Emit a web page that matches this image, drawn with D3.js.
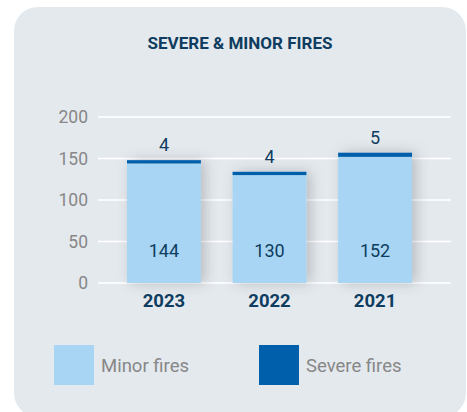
<!DOCTYPE html>
<html>
<head>
<meta charset="utf-8">
<script src="https://cdn.jsdelivr.net/npm/d3@7"></script>
<style>
  html, body { margin: 0; padding: 0; background: #fff; }
  svg { display: block; font-family: Roboto, "Noto Sans", sans-serif; }
</style>
</head>
<body>
<div id="chart"></div>
<script>
// data
const years = ['2023', '2022', '2021'];
const minorFires = [144, 130, 152];
const severeFires = [4, 4, 5];
const yTicks = [0, 50, 100, 150, 200];

const WIDTH = 467;
const HEIGHT = 412;

const LIGHT = '#a7d5f3';
const DARK = '#005fab';
const NAVY = '#0e3d5f';
const GREY = '#878787';

const svg = d3.select('#chart')
  .append('svg')
  .attr('width', WIDTH)
  .attr('height', HEIGHT);

// shadow for bars
const defs = svg.append('defs');
const shadow = defs.append('filter')
  .attr('id', 'shadow')
  .attr('x', '-40%').attr('y', '-20%')
  .attr('width', '180%').attr('height', '140%');
shadow.append('feDropShadow')
  .attr('dx', 4).attr('dy', 0)
  .attr('stdDeviation', 7)
  .attr('flood-color', '#000')
  .attr('flood-opacity', 0.2);

// panel background
svg.append('rect')
  .attr('x', 14).attr('y', 7)
  .attr('width', 452).attr('height', 410)
  .attr('rx', 24)
  .attr('fill', '#e4e9ee');

// title
svg.append('text')
  .attr('x', 240).attr('y', 49)
  .attr('text-anchor', 'middle')
  .attr('font-size', 16.5)
  .attr('font-weight', 700)
  .attr('fill', NAVY)
  .attr('textLength', 185)
  .attr('lengthAdjust', 'spacingAndGlyphs')
  .text('SEVERE & MINOR FIRES');

const x = d3.scaleBand()
  .domain(years)
  .range([127, 412])
  .paddingInner(0.3)
  .paddingOuter(0);

const y = d3.scaleLinear()
  .domain([0, 200])
  .range([283, 117]);

// gridlines
svg.append('g')
  .selectAll('line')
  .data(yTicks)
  .join('line')
  .attr('x1', 98).attr('x2', 451)
  .attr('y1', d => y(d)).attr('y2', d => y(d))
  .attr('stroke', '#fff')
  .attr('stroke-width', 1.5);

// y axis labels
const yAxis = svg.append('g')
  .attr('transform', 'translate(94,0)')
  .call(d3.axisLeft(y).tickValues(yTicks).tickSize(0).tickPadding(6));
yAxis.select('.domain').remove();
yAxis.selectAll('text')
  .attr('font-family', 'Roboto, sans-serif')
  .attr('font-size', 17.5)
  .attr('fill', GREY);

// stacked bars
const rows = years.map((yr, i) => ({ year: yr, minor: minorFires[i], severe: severeFires[i] }));

const bars = svg.append('g')
  .selectAll('g')
  .data(rows)
  .join('g')
  .attr('filter', 'url(#shadow)');

bars.append('rect')
  .attr('x', d => x(d.year))
  .attr('width', x.bandwidth())
  .attr('y', d => y(d.minor))
  .attr('height', d => y(0) - y(d.minor))
  .attr('fill', LIGHT);

bars.append('rect')
  .attr('x', d => x(d.year))
  .attr('width', x.bandwidth())
  .attr('y', d => y(d.minor + d.severe))
  .attr('height', d => y(d.minor) - y(d.minor + d.severe))
  .attr('fill', DARK);

// value labels
svg.append('g')
  .selectAll('text')
  .data(rows)
  .join('text')
  .attr('x', d => x(d.year) + x.bandwidth() / 2)
  .attr('y', 257)
  .attr('text-anchor', 'middle')
  .attr('font-size', 18)
  .attr('fill', NAVY)
  .text(d => d.minor);

svg.append('g')
  .selectAll('text')
  .data(rows)
  .join('text')
  .attr('x', d => x(d.year) + x.bandwidth() / 2)
  .attr('y', d => y(d.minor + d.severe) - 9)
  .attr('text-anchor', 'middle')
  .attr('font-size', 18)
  .attr('fill', NAVY)
  .text(d => d.severe);

// year labels
svg.append('g')
  .selectAll('text')
  .data(years)
  .join('text')
  .attr('x', d => x(d) + x.bandwidth() / 2)
  .attr('y', 307)
  .attr('text-anchor', 'middle')
  .attr('font-size', 18.5)
  .attr('font-weight', 700)
  .attr('fill', NAVY)
  .text(d => d);

// legend
const legendItems = [
  { label: 'Minor fires', color: LIGHT, x: 54 },
  { label: 'Severe fires', color: DARK, x: 259 }
];
const legend = svg.append('g')
  .selectAll('g')
  .data(legendItems)
  .join('g')
  .attr('transform', d => `translate(${d.x},345)`);
legend.append('rect')
  .attr('width', 40).attr('height', 40)
  .attr('fill', d => d.color);
legend.append('text')
  .attr('x', 47).attr('y', 27)
  .attr('font-size', 18.5)
  .attr('fill', GREY)
  .text(d => d.label);
</script>
</body>
</html>
